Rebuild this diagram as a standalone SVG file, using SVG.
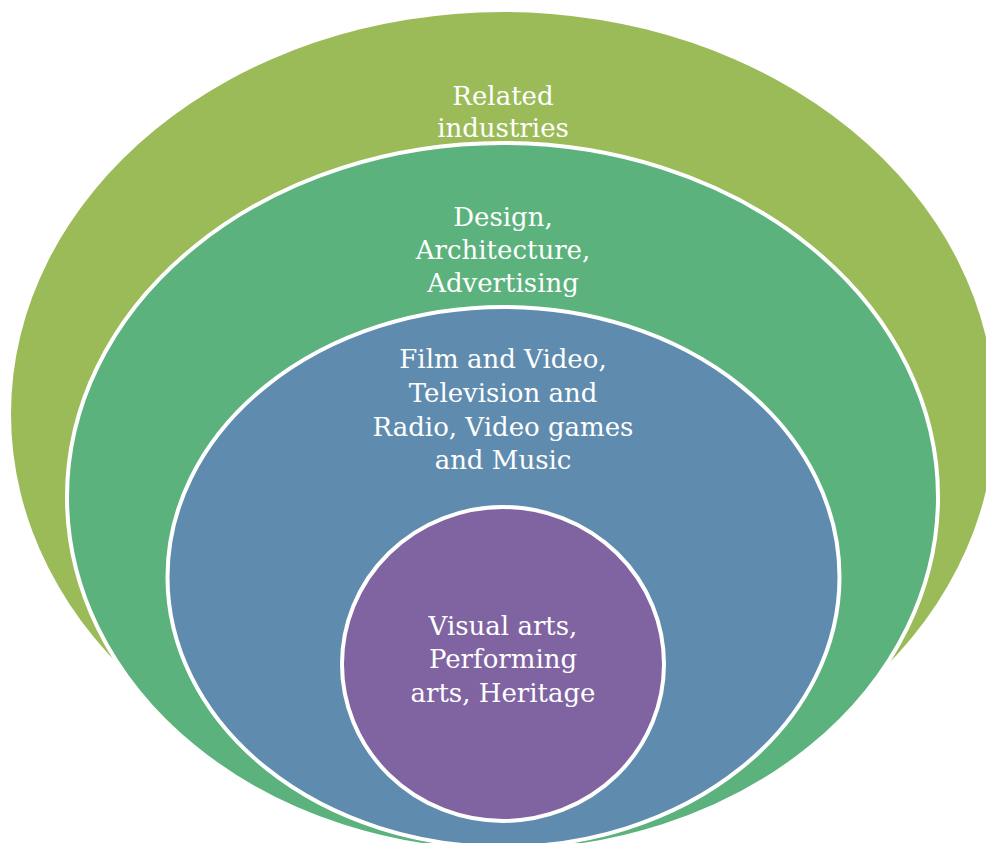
<svg xmlns="http://www.w3.org/2000/svg" width="986" height="843" viewBox="0 0 986 843">
  <style>
    .ring { stroke: #ffffff; stroke-width: 4; }
    .label { font-family: "DejaVu Serif", "Liberation Serif", serif; font-size: 26px; fill: #ffffff; text-anchor: middle; }
  </style>
  <rect width="986" height="843" fill="#ffffff"/>
  <!-- Nested sectors, drawn from the outermost ring inwards -->
  <g id="related-industries">
    <ellipse cx="503" cy="414" rx="492" ry="402" fill="#9BBB59"/>
    <text class="label"><tspan x="503" y="105">Related</tspan><tspan x="503" y="137">industries</tspan></text>
  </g>
  <g id="design-architecture-advertising">
    <ellipse class="ring" cx="502.5" cy="497" rx="435.5" ry="354" fill="#5CB27C"/>
    <text class="label"><tspan x="503" y="226">Design,</tspan><tspan x="503" y="259">Architecture,</tspan><tspan x="503" y="292">Advertising</tspan></text>
  </g>
  <g id="media-industries">
    <ellipse class="ring" cx="503.5" cy="577" rx="336" ry="270" fill="#5F8CAE"/>
    <text class="label"><tspan x="503" y="368">Film and Video,</tspan><tspan x="503" y="402">Television and</tspan><tspan x="503" y="436">Radio, Video games</tspan><tspan x="503" y="469">and Music</tspan></text>
  </g>
  <g id="core-arts">
    <ellipse class="ring" cx="503" cy="664" rx="161" ry="157" fill="#8064A2"/>
    <text class="label"><tspan x="503" y="635">Visual arts,</tspan><tspan x="503" y="668">Performing</tspan><tspan x="503" y="702">arts, Heritage</tspan></text>
  </g>
</svg>
